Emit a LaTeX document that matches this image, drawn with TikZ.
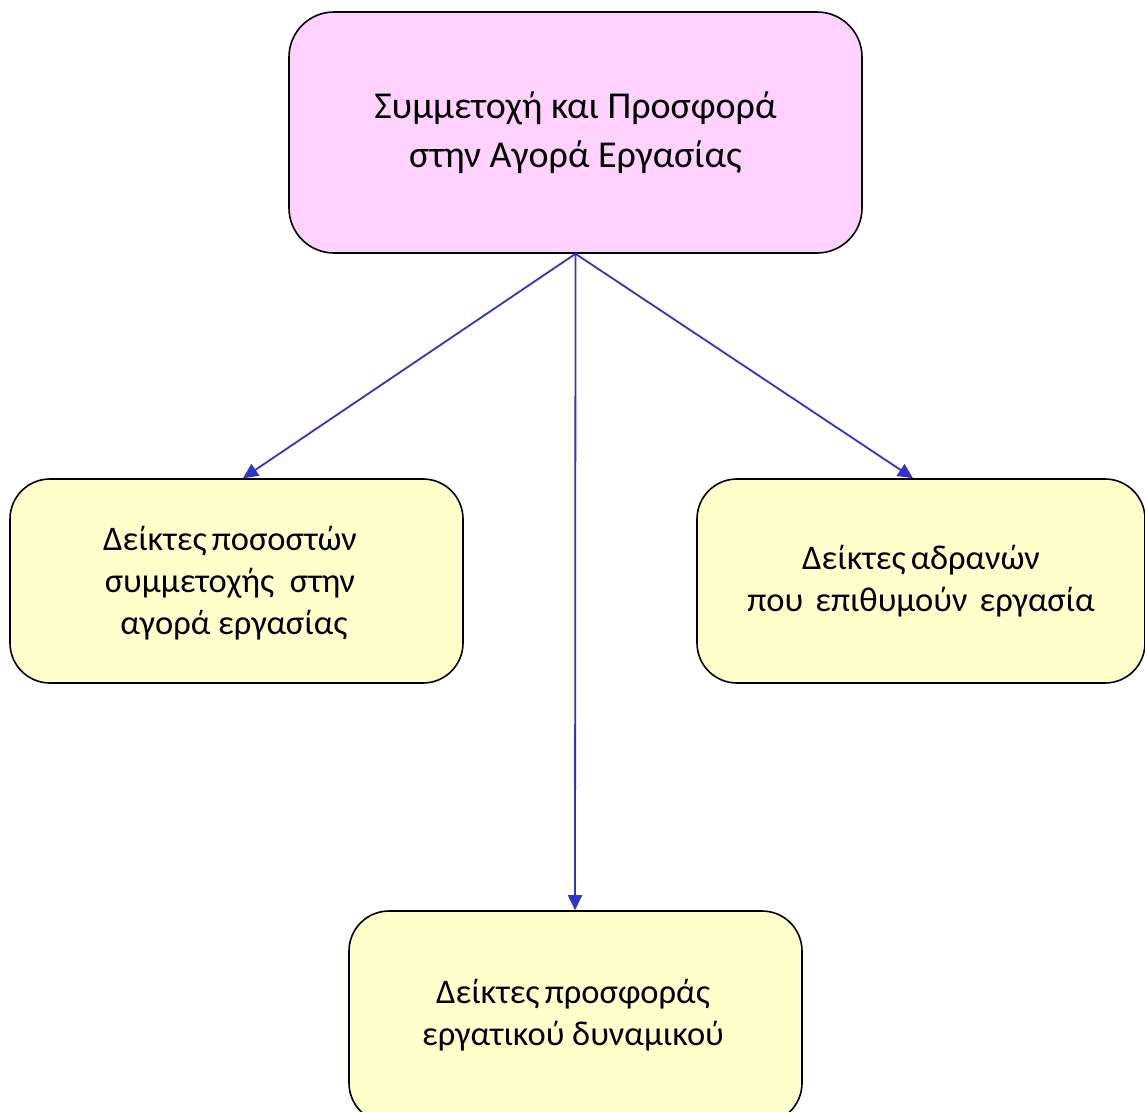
\documentclass[tikz,border=0pt]{standalone}
\usepackage{fontspec}
\setmainfont{Carlito}
\usetikzlibrary{arrows.meta}
\definecolor{pinkfill}{RGB}{255,209,255}
\definecolor{yellowfill}{RGB}{255,255,204}
\definecolor{arrowblue}{RGB}{51,51,204}
\tikzset{
  topbox/.style={draw=black, line width=1.6pt, fill=pinkfill, rounded corners=45pt,
    minimum width=573pt, minimum height=241pt, align=center, inner sep=0pt,
    font=\fontsize{38}{49}\selectfont},
  subbox/.style={draw=black, line width=1.6pt, fill=yellowfill, rounded corners=40pt,
    minimum height=204pt, align=center, inner sep=0pt,
    font=\fontsize{34.5}{42}\selectfont},
  link/.style={draw=arrowblue, line width=1.8pt, -{Triangle[length=15pt,width=14pt]}}
}
\begin{document}
\begin{tikzpicture}[x=1pt,y=-1pt]
\useasboundingbox (0,0) rectangle (1145,1111);
\node[topbox] (top) at (575.5,132.5) {Συμμετοχή και Προσφορά\\ στην Αγορά Εργασίας};
\node[subbox, minimum width=453pt] (left) at (236.5,581) {};
\node[align=center, font=\fontsize{34.5}{42}\selectfont] (lefttext) at (230,583) {Δείκτες\hspace{0.15em}ποσοστών\\ συμμετοχής\ \ στην\\ \ αγορά εργασίας};
\node[subbox, minimum width=448pt] (right) at (921,581) {Δείκτες\hspace{0.15em}αδρανών\\ που\hspace{0.35em}επιθυμούν\hspace{0.35em}εργασία};
\node[subbox, minimum width=453pt, minimum height=212pt] (bottom) at (575.5,1017) {};
\node[align=center, font=\fontsize{34.5}{42}\selectfont] (bottomtext) at (573,1015) {Δείκτες\hspace{0.15em}προσφοράς\\ εργατικού δυναμικού};
\draw[link] (top.south) -- ([xshift=6.5pt]left.north);
\draw[link] (top.south) -- ([xshift=-8pt]right.north);
\draw[link] (top.south) -- ([xshift=-0.5pt]bottom.north);
\end{tikzpicture}
\end{document}
